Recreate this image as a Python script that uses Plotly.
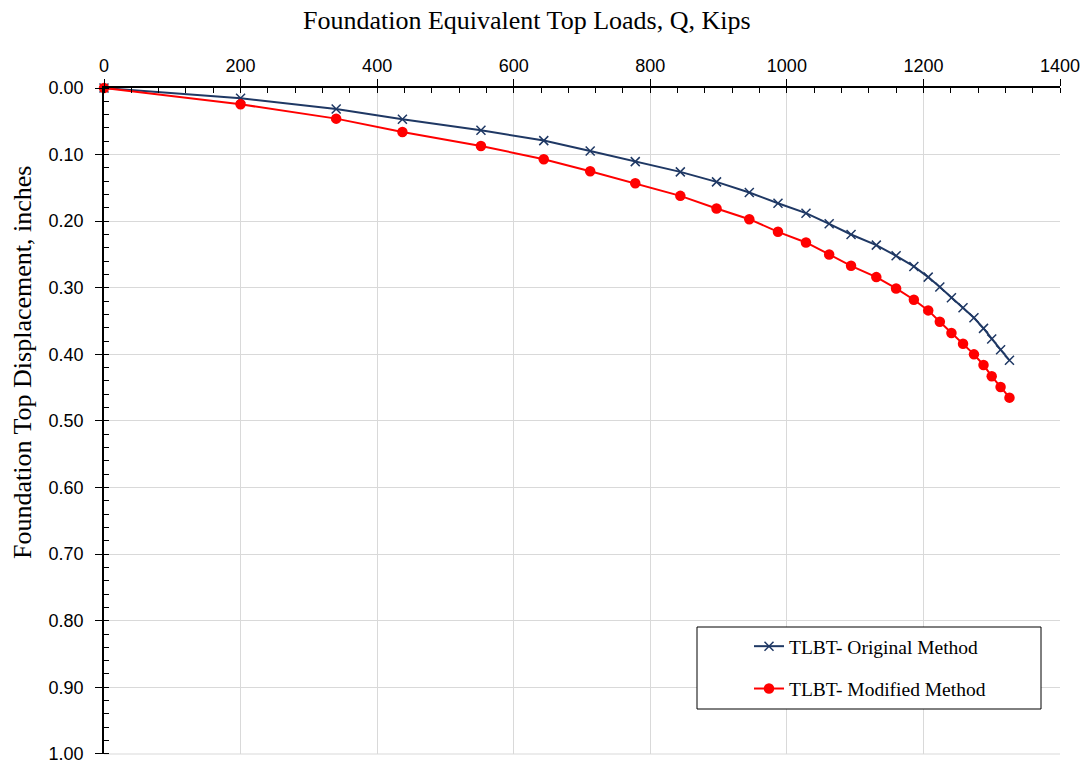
import plotly.graph_objects as go

# Data
loads = [0, 200, 340, 437, 552, 644, 712, 778, 844, 897, 945, 987, 1028, 1062,
         1094, 1131, 1160, 1186, 1207, 1224, 1241, 1258, 1274, 1288, 1300, 1313, 1326]
disp_original = [0.000, 0.0155, 0.0315, 0.047, 0.0635, 0.079, 0.0946, 0.1106, 0.126,
                 0.141, 0.157, 0.173, 0.188, 0.204, 0.220, 0.236, 0.252, 0.268, 0.284,
                 0.299, 0.315, 0.330, 0.345, 0.361, 0.377, 0.393, 0.409]
disp_modified = [0.000, 0.0245, 0.046, 0.066, 0.087, 0.107, 0.125, 0.143, 0.162,
                 0.181, 0.197, 0.216, 0.232, 0.250, 0.267, 0.284, 0.301, 0.318, 0.334,
                 0.351, 0.368, 0.384, 0.400, 0.416, 0.433, 0.449, 0.465]

x_ticks = [0, 200, 400, 600, 800, 1000, 1200, 1400]
y_ticks = [0.0, 0.1, 0.2, 0.3, 0.4, 0.5, 0.6, 0.7, 0.8, 0.9, 1.0]
y_ticktext = ["%.2f" % v for v in y_ticks]

x_title = "Foundation Equivalent Top Loads, Q, Kips"
y_title = "Foundation Top Displacement, inches"

navy = "#1F3864"
red = "#FF0000"
grid = "#D9D9D9"
serif = "Liberation Serif, Times New Roman"
sans = "Liberation Sans, Arial"

fig = go.Figure()
fig.add_trace(go.Scatter(
    x=loads, y=disp_original, mode="lines+markers", name="TLBT- Original Method",
    line=dict(color=navy, width=2),
    marker=dict(symbol="x-thin", size=9, color=navy, line=dict(color=navy, width=1.5)),
    cliponaxis=False, legendgroup="a"))
fig.add_trace(go.Scatter(
    x=loads, y=disp_modified, mode="lines+markers", name="TLBT- Modified Method",
    line=dict(color=red, width=2),
    marker=dict(symbol="circle", size=10.5, color=red),
    cliponaxis=False, legendgroup="b"))

W, H = 1088, 764
L, R, T, B = 104, 28, 88, 10
pw, ph = W - L - R, H - T - B

def px_x(p):
    return (p - L) / pw

def px_y(p):
    return (H - B - p) / ph

# bottom gridline at the axis end
fig.add_shape(type="line", xref="paper", yref="paper", x0=0, x1=1, y0=0, y1=0,
              line=dict(color=grid, width=1), layer="below")

fig.add_shape(type="rect", xref="paper", yref="paper",
              x0=px_x(697), x1=px_x(1041), y0=px_y(709), y1=px_y(627),
              line=dict(color="black", width=1), fillcolor="white", layer="above")

fig.add_annotation(text=x_title, xref="paper", yref="paper",
                   x=px_x(527), y=px_y(20), xanchor="center", yanchor="middle",
                   showarrow=False, font=dict(family=serif, size=26, color="black"))
fig.add_annotation(text=y_title, xref="paper", yref="paper",
                   x=px_x(22), y=px_y(363), xanchor="center", yanchor="middle",
                   textangle=-90, showarrow=False,
                   font=dict(family=serif, size=26, color="black"))

fig.update_layout(
    width=W, height=H,
    margin=dict(l=L, r=R, t=T, b=B, autoexpand=False),
    paper_bgcolor="white", plot_bgcolor="white",
    font=dict(family=sans, size=18, color="black"),
    showlegend=True,
    legend=dict(
        x=px_x(749), y=px_y(627), xanchor="left", yanchor="top",
        bgcolor="rgba(0,0,0,0)", borderwidth=0,
        font=dict(family=serif, size=19.5, color="black"),
        itemwidth=30, tracegroupgap=14,
    ),
    xaxis=dict(
        side="top", range=[0, 1400], autorange=False, automargin=False,
        tickvals=x_ticks, ticks="outside", ticklen=7, tickcolor="black", tickwidth=1,
        showline=True, linecolor="black", linewidth=1.5,
        showgrid=True, gridcolor=grid, gridwidth=1, zeroline=False,
        minor=dict(dtick=40, ticks="inside", ticklen=5, tickcolor="black", showgrid=False),
        tickfont=dict(family=sans, size=18, color="black"),
        ticklabeloverflow="allow",
    ),
    yaxis=dict(
        range=[1.0002, 0.0], autorange=False, automargin=False,
        tickvals=y_ticks, ticktext=y_ticktext,
        ticks="outside", ticklen=7, tickcolor="black", tickwidth=1,
        ticklabelstandoff=8, ticklabeloverflow="allow",
        showline=True, linecolor="black", linewidth=1.5,
        showgrid=True, gridcolor=grid, gridwidth=1, zeroline=False,
        minor=dict(dtick=0.02, ticks="inside", ticklen=5, tickcolor="black", showgrid=False),
        tickfont=dict(family=sans, size=18, color="black"),
    ),
)

fig.write_html("out.html")
